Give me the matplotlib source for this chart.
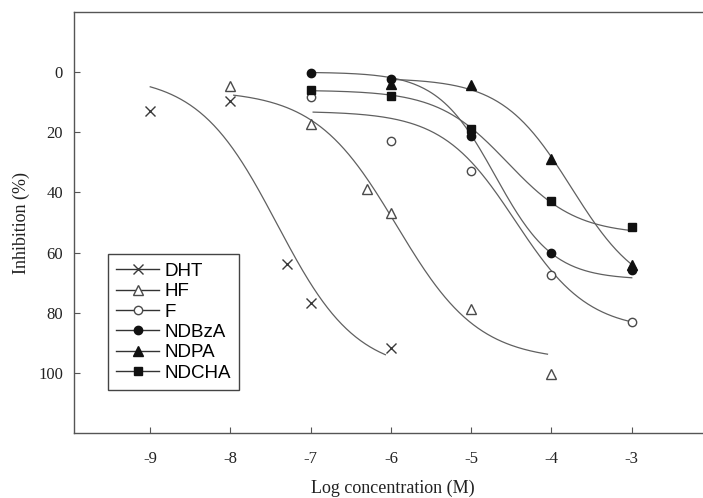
import numpy as np
import matplotlib.pyplot as plt

plt.rcParams['axes.unicode_minus'] = False

# measured points (log M, % inhibition)
dht_x = [-9, -8, -7.3, -7, -6]
dht_y = [13, 9.6, 63.8, 76.7, 91.8]
hf_x = [-8, -7, -6.3, -6, -5, -4]
hf_y = [4.7, 17.1, 38.7, 46.7, 78.8, 100.3]
f_x = [-7, -6, -5, -4, -3]
f_y = [8.1, 22.8, 32.9, 67.5, 83]
ndbza_x = [-7, -6, -5, -4, -3]
ndbza_y = [0.3, 2.4, 21.3, 60.3, 65.8]
ndpa_x = [-6, -5, -4, -3]
ndpa_y = [4.1, 4.4, 29, 64]
ndcha_x = [-7, -6, -5, -4, -3]
ndcha_y = [6.1, 8, 18.8, 42.8, 51.4]

# fitted curve parameters: bottom, top, logIC50, slope, x start, x end
dht_fit = [1, 100, -7.42, 0.88, -9.0, -6.07]
hf_fit = [6, 96, -5.93, 0.85, -7.96, -4.05]
f_fit = [13, 86, -4.45, 0.95, -6.97, -3.03]
ndbza_fit = [0, 69, -4.7, 1.2, -7.0, -3.0]
ndpa_fit = [2, 75, -3.75, 1.0, -6.0, -3.0]
ndcha_fit = [6, 54, -4.55, 1.0, -7.0, -3.0]


def logistic(p):
    lo, hi, c, h, x0, x1 = p
    x = np.linspace(x0, x1, 200)
    return x, lo + (hi - lo) / (1 + 10 ** (h * (c - x)))


fig = plt.figure(figsize=(7.03, 4.98), dpi=100)
ax = fig.add_axes([74 / 703, 65 / 498, 638 / 703, 421 / 498])

curve_col = '#606060'
series = [
    ('DHT', dht_x, dht_y, dht_fit, dict(marker='x', ms=6.5, mec='#3a3a3a', mfc='none', mew=1.0)),
    ('HF', hf_x, hf_y, hf_fit, dict(marker='^', ms=6.5, mec='#4a4a4a', mfc='white', mew=1.0)),
    ('F', f_x, f_y, f_fit, dict(marker='o', ms=6, mec='#4a4a4a', mfc='white', mew=1.0)),
    ('NDBzA', ndbza_x, ndbza_y, ndbza_fit, dict(marker='o', ms=6, mec='#111111', mfc='#111111')),
    ('NDPA', ndpa_x, ndpa_y, ndpa_fit, dict(marker='^', ms=6.5, mec='#111111', mfc='#111111')),
    ('NDCHA', ndcha_x, ndcha_y, ndcha_fit, dict(marker='s', ms=5.5, mec='#111111', mfc='#111111')),
]

handles = []
for name, xs, ys, fit, mk in series:
    cx, cy = logistic(fit)
    ax.plot(cx, cy, color=curve_col, lw=0.9, zorder=2)
    ax.plot(xs, ys, ls='none', zorder=3, **mk)
    h, = ax.plot([], [], color='#333333', lw=1.0, label=name, **mk)
    handles.append(h)

ax.set_xlim(-9.95, -2.0)
ax.set_ylim(120, -20)
ax.set_xticks([-9, -8, -7, -6, -5, -4, -3])
ax.set_yticks([0, 20, 40, 60, 80, 100])
ax.tick_params(direction='in', length=4, width=0.8, colors='#555555',
               labelcolor='#222222', labelsize=12)
ax.tick_params(axis='x', pad=13)
ax.tick_params(axis='y', pad=8)
for lab in ax.get_xticklabels() + ax.get_yticklabels():
    lab.set_family('Liberation Serif')
for s in ax.spines.values():
    s.set_color('#555555')
    s.set_linewidth(1.0)

ax.set_xlabel('Log concentration (M)', family='Liberation Serif', fontsize=13,
              color='#222222', labelpad=9)
ax.set_ylabel('Inhibition (%)', family='Liberation Serif', fontsize=13,
              color='#222222', labelpad=6)

leg = ax.legend(handles=handles, loc='lower left', bbox_to_anchor=(0.053, 0.102),
                borderaxespad=0, fancybox=False, framealpha=1, edgecolor='#444444',
                prop={'family': 'Liberation Sans', 'size': 13.5},
                handlelength=2.3, handletextpad=0.25, labelspacing=0.17,
                borderpad=0.45)
leg.get_frame().set_linewidth(1.0)

fig.savefig('out.png', dpi=100)
